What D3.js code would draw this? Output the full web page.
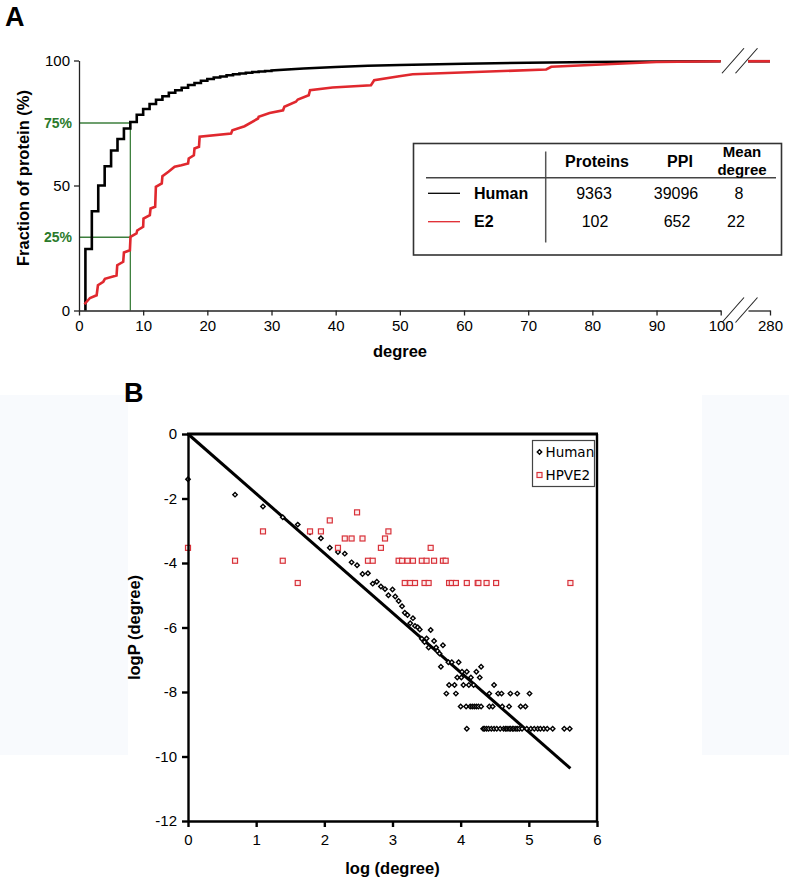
<!DOCTYPE html>
<html><head><meta charset="utf-8">
<script src="https://cdn.jsdelivr.net/npm/d3@7"></script>
<style>
body{margin:0;background:#fff}
svg{display:block}
text{font-family:"Liberation Sans",Arial,sans-serif;fill:#000}
</style>
</head><body>
<svg id="c" width="789" height="883"></svg>
<script>
// ---------- Panel A data ----------
const xTicksA = [0,10,20,30,40,50,60,70,80,90,100];
const yTicksA = [0,50,100];
const breakTick = [280];
// Human cumulative distribution (step part, then smooth part)
const humanStepDeg = [1,2,3,4,5,6,7,8,9,10,11,12,13,14,15,16,17,18,19,20,21,22,23,24,25,26,27,28,29,30];
const humanStepPct = [24.6,39.7,50.0,57.7,64.0,68.6,72.8,75.4,78.3,80.6,82.6,84.3,85.7,87.1,88.1,89.1,90.2,91.0,91.9,92.6,93.2,93.6,94.1,94.5,94.8,95.1,95.4,95.6,95.8,96.0];
const humanSmoothDeg = [35,40,45,50,60,70,80,90,100];
const humanSmoothPct = [96.8,97.4,97.9,98.2,98.7,99.1,99.4,99.6,99.7];
// E2 cumulative distribution (vertices of the red trace)
const e2Deg = [0.85,1.71,2.75,2.95,3.78,4.04,5.85,5.96,6.89,7.0,7.93,8.03,8.96,9.07,10.0,10.05,11.04,11.15,11.87,11.98,12.9,13.0,13.94,14.9,15.96,17.0,17.1,17.9,18.0,18.7,18.8,23.7,23.9,25.8,27.9,28.0,29.7,31.8,32.0,33.8,34.1,35.8,36.0,39.5,45.5,46.0,49.9,52,72.8,73.6,90,100];
const e2Pct = [2.5,5,6.1,10.1,11.5,12.7,14,18.1,19.5,23.2,24.1,29.5,30.8,32,33.5,36.8,38.1,40.8,41.5,49.5,50.8,53.7,55.5,57.5,58.1,58.8,60.8,62.1,64.8,65.5,69.5,70.8,72.1,73.7,76.8,77.5,79,80.1,81.5,83.5,84.4,86.1,88.1,89.2,90.1,92.1,93.7,94.5,96.4,97.5,99.4,99.7];
// after the axis break
const tailDeg = [250,280];
const tailPct = [99.7,99.7];
// quartile guides
const guideDeg = 8;
const guidePct = [75, 29.3];
const guideLabels = ["75%","25%"];
// table
const tableHeaders = ["Proteins","PPI"];
const tableHeader3 = ["Mean","degree"];
const tableNames = ["Human","E2"];
const tableProteins = ["9363","102"];
const tablePPI = ["39096","652"];
const tableMean = ["8","22"];

// ---------- Panel B data ----------
const xTicksB = [0,1,2,3,4,5,6];
const yTicksB = [0,-2,-4,-6,-8,-10,-12];
const humanLogK = [0,0.69,1.10,1.39,1.61,1.79,1.95,2.08,2.20,2.30,2.40,2.48,2.56,2.64,2.71,2.77,2.83,2.89,2.94,3.00,3.04,3.09,3.14,3.18,3.22,3.26,3.30,3.33,3.37,3.40,3.43,3.47,3.50,3.53,3.56,3.61,3.64,3.66,3.69,3.71,3.74,
  3.82,3.87,3.97,
  4.30,
  4.02,4.09,4.23,
  3.95,4.01,4.15,4.28,
  3.83,3.91,4.04,4.12,4.19,4.49,
  3.79,3.93,4.42,4.55,4.60,4.73,4.83,5.01,
  4.00,4.08,4.14,4.17,4.20,4.23,4.26,4.30,4.42,4.47,4.61,4.71,4.88,4.95,
  4.09,4.33,4.35,4.38,4.41,4.45,4.49,4.53,4.58,4.63,4.66,4.68,4.71,4.73,4.76,4.78,4.81,4.83,4.86,4.90,4.97,5.03,5.08,5.13,5.17,5.22,5.27,5.35,5.52,5.60];
const humanLogP = [-1.40,-1.88,-2.25,-2.58,-2.81,-3.05,-3.23,-3.53,-3.66,-3.71,-3.98,-4.07,-4.34,-4.32,-4.64,-4.58,-4.73,-4.81,-5.00,-4.82,-5.04,-5.18,-5.34,-5.54,-5.61,-5.87,-5.71,-5.95,-5.99,-6.06,-6.35,-6.45,-6.34,-6.62,-6.08,-6.42,-6.62,-6.73,-6.81,-7.22,-6.55,
  -7.08,-7.08,-7.08,
  -7.22,
  -7.37,-7.37,-7.37,
  -7.55,-7.55,-7.55,-7.55,
  -7.78,-7.78,-7.78,-7.78,-7.78,-7.78,
  -8.05,-8.05,-8.05,-8.05,-8.05,-8.05,-8.05,-8.05,
  -8.45,-8.45,-8.45,-8.45,-8.45,-8.45,-8.45,-8.45,-8.45,-8.45,-8.45,-8.45,-8.45,-8.45,
  -9.14,-9.14,-9.14,-9.14,-9.14,-9.14,-9.14,-9.14,-9.14,-9.14,-9.14,-9.14,-9.14,-9.14,-9.14,-9.14,-9.14,-9.14,-9.14,-9.14,-9.14,-9.14,-9.14,-9.14,-9.14,-9.14,-9.14,-9.14,-9.14,-9.14];
const e2LogK = [0,0.69,1.10,1.39,1.61,1.79,1.95,2.08,2.20,2.30,2.40,2.48,2.56,2.64,2.71,2.83,2.89,2.94,3.09,3.14,3.18,3.22,3.26,3.30,3.33,3.43,3.47,3.50,3.53,3.56,3.61,3.74,3.78,3.83,3.87,3.93,4.09,4.25,4.26,4.38,4.52,5.61];
const e2LogP = [-3.53,-3.93,-3.02,-3.93,-4.62,-3.02,-3.02,-2.68,-3.53,-3.24,-3.24,-2.43,-3.24,-3.93,-3.93,-3.53,-3.24,-3.02,-3.93,-3.93,-4.62,-3.93,-4.62,-3.93,-4.62,-3.93,-4.62,-3.93,-4.62,-3.53,-3.93,-3.93,-3.93,-4.62,-4.62,-4.62,-4.62,-4.62,-4.62,-4.62,-4.62,-4.62];
const fitLogK = [0,5.61];
const fitLogP = [0,-10.37];
const legendLabels = ["Human","HPVE2"];

// ---------- drawing ----------
const svg = d3.select("#c");
const RED = "#e0282e", GREEN = "#3d7f3d", GTEXT = "#2b7a2b";

// faint background tint of panel B margins
svg.append("rect").attr("x",0).attr("y",395).attr("width",128).attr("height",360).attr("fill","#f8fafd");
svg.append("rect").attr("x",702).attr("y",395).attr("width",87).attr("height",360).attr("fill","#f8fafd");

// ===== Panel A =====
const gA = svg.append("g");
const xA = d3.scaleLinear().domain([0,100]).range([79,720.7]);
const xA2 = d3.scaleLinear().domain([250,280]).range([748,770]);
const yA = d3.scaleLinear().domain([0,100]).range([310.5,60.5]);

gA.append("text").text("A").attr("x",5).attr("y",26).style("font-size","27px").style("font-weight","bold");

// guides
guidePct.forEach(p=>{
  gA.append("line").attr("x1",xA(0)).attr("x2",xA(guideDeg)).attr("y1",yA(p)).attr("y2",yA(p))
    .attr("stroke",GREEN).attr("stroke-width",1.3);
});
gA.append("line").attr("x1",xA(guideDeg)).attr("x2",xA(guideDeg)).attr("y1",yA(0)).attr("y2",yA(guidePct[0]))
  .attr("stroke",GREEN).attr("stroke-width",1.3);
guidePct.forEach((p,i)=>{
  gA.append("text").text(guideLabels[i]).attr("x",72).attr("y",yA(p)).attr("dy","0.35em")
    .attr("text-anchor","end").style("font-size","14px").style("font-weight","bold").style("fill",GTEXT);
});

// axes
const axA = gA.append("g").attr("transform",`translate(0,${yA(0)})`)
  .call(d3.axisBottom(xA).tickValues(xTicksA).tickSize(5).tickSizeOuter(0).tickPadding(5));
const axA2 = gA.append("g").attr("transform",`translate(0,${yA(0)})`)
  .call(d3.axisBottom(xA2).tickValues(breakTick).tickSize(5).tickSizeOuter(0).tickPadding(5));
const ayA = gA.append("g").attr("transform",`translate(${xA(0)},0)`)
  .call(d3.axisLeft(yA).tickValues(yTicksA).tickSize(5).tickSizeOuter(0).tickPadding(4));
[axA,axA2,ayA].forEach(a=>{
  a.selectAll("path,line").attr("stroke","#222").attr("stroke-width",1.3);
  a.selectAll("text").style("font-size","15px").style("font-family","'Liberation Sans',Arial,sans-serif");
});

// curves
const lineA = d3.line().x(d=>xA(d[0])).y(d=>yA(d[1]));
const humanPts = [[humanStepDeg[0],0]];
humanStepDeg.forEach((d,i)=>{
  if(i>0) humanPts.push([d,humanStepPct[i-1]]);
  humanPts.push([d,humanStepPct[i]]);
});
humanSmoothDeg.forEach((d,i)=>humanPts.push([d,humanSmoothPct[i]]));
gA.append("path").attr("d",lineA(humanPts)).attr("fill","none").attr("stroke","#000").attr("stroke-width",2.6);
gA.append("path").attr("d",lineA(e2Deg.map((d,i)=>[d,e2Pct[i]]))).attr("fill","none").attr("stroke",RED).attr("stroke-width",2.6);
const lineA2 = d3.line().x(d=>xA2(d[0])).y(d=>yA(d[1]));
gA.append("path").attr("d",lineA2(tailDeg.map((d,i)=>[d,tailPct[i]]))).attr("fill","none").attr("stroke","#000").attr("stroke-width",2.6);
gA.append("path").attr("d",lineA2(tailDeg.map((d,i)=>[d,tailPct[i]]))).attr("fill","none").attr("stroke",RED).attr("stroke-width",2.6);

// break marks
[[yA(0)],[yA(99.7)]].forEach(([yy])=>{
  [0,13.5].forEach(off=>{
    gA.append("line").attr("x1",722+off).attr("y1",yy+12).attr("x2",744+off).attr("y2",yy-13)
      .attr("stroke","#222").attr("stroke-width",1.1);
  });
});

// axis titles
gA.append("text").text("degree").attr("x",400).attr("y",357).attr("text-anchor","middle")
  .style("font-size","16.5px").style("font-weight","bold");
gA.append("text").text("Fraction of protein (%)").attr("transform","translate(29,178) rotate(-90)")
  .attr("text-anchor","middle").style("font-size","16.5px").style("font-weight","bold");

// table
const tb = gA.append("g");
tb.append("rect").attr("x",413.5).attr("y",143.5).attr("width",368).attr("height",111.5)
  .attr("fill","#fff").attr("stroke","#333").attr("stroke-width",1.6);
tb.append("line").attr("x1",545.7).attr("x2",545.7).attr("y1",151.5).attr("y2",242.5).attr("stroke","#555").attr("stroke-width",1.5);
tb.append("line").attr("x1",426).attr("x2",776).attr("y1",177.7).attr("y2",177.7).attr("stroke","#444").attr("stroke-width",1.5);
const colX = [597,680,742];
tableHeaders.forEach((h,i)=>tb.append("text").text(h).attr("x",colX[i]).attr("y",167).attr("text-anchor","middle")
  .style("font-size","16px").style("font-weight","bold"));
tableHeader3.forEach((h,i)=>tb.append("text").text(h).attr("x",colX[2]).attr("y",157+i*18).attr("text-anchor","middle")
  .style("font-size","15px").style("font-weight","bold"));
const rowY = [193.3,221.7];
const rowColor = ["#000",RED];
const valX = [[594,676,739],[595,677,736]];
tableNames.forEach((n,i)=>{
  tb.append("line").attr("x1",428).attr("x2",460).attr("y1",rowY[i]).attr("y2",rowY[i]).attr("stroke",rowColor[i]).attr("stroke-width",1.3);
  tb.append("text").text(n).attr("x",474).attr("y",rowY[i]).attr("dy","0.35em").style("font-size","16px").style("font-weight","bold");
  [tableProteins[i],tablePPI[i],tableMean[i]].forEach((v,j)=>{
    tb.append("text").text(v).attr("x",valX[i][j]).attr("y",rowY[i]).attr("dy","0.35em").attr("text-anchor","middle").style("font-size","16px");
  });
});

// ===== Panel B =====
const gB = svg.append("g");
const xB = d3.scaleLinear().domain([0,6]).range([188,597]);
const yB = d3.scaleLinear().domain([-12,0]).range([821,434]);

gB.append("text").text("B").attr("x",124).attr("y",402).style("font-size","27px").style("font-weight","bold");

// fit line
gB.append("line").attr("x1",xB(fitLogK[0])).attr("y1",yB(fitLogP[0])).attr("x2",xB(fitLogK[1])).attr("y2",yB(fitLogP[1]))
  .attr("stroke","#000").attr("stroke-width",3);

// human points (small diamonds)
const diamond = d3.symbol().type(d3.symbolSquare).size(10);
gB.append("g").selectAll("path").data(humanLogK.map((k,i)=>[k,humanLogP[i]])).join("path")
  .attr("d",diamond).attr("transform",d=>`translate(${xB(d[0])},${yB(d[1])}) rotate(45)`)
  .attr("fill","#fff").attr("stroke","#000").attr("stroke-width",1.4);
// E2 points (small squares)
gB.append("g").selectAll("rect").data(e2LogK.map((k,i)=>[k,e2LogP[i]])).join("rect")
  .attr("x",d=>xB(d[0])-2.5).attr("y",d=>yB(d[1])-2.5).attr("width",5).attr("height",5)
  .attr("fill","#fdeeee").attr("stroke","#d8323a").attr("stroke-width",1.2);

// frame & axes
const fmt = d => String(d);
const axB = gB.append("g").attr("transform",`translate(0,${yB(-12)})`)
  .call(d3.axisBottom(xB).tickValues(xTicksB).tickFormat(fmt).tickSize(6).tickSizeOuter(0).tickPadding(7));
const ayB = gB.append("g").attr("transform",`translate(${xB(0)},0)`)
  .call(d3.axisLeft(yB).tickValues(yTicksB).tickFormat(fmt).tickSize(6).tickSizeOuter(0).tickPadding(5));
[axB,ayB].forEach(a=>{
  a.selectAll("path,line").attr("stroke","#000").attr("stroke-width",2.4);
  a.selectAll("text").style("font-size","15px").style("font-family","'Liberation Sans',Arial,sans-serif");
});
gB.append("line").attr("x1",xB(0)-1).attr("x2",xB(6)+1).attr("y1",yB(0)).attr("y2",yB(0)).attr("stroke","#000").attr("stroke-width",3);
gB.append("line").attr("x1",xB(6)).attr("x2",xB(6)).attr("y1",yB(0)).attr("y2",yB(-12)).attr("stroke","#000").attr("stroke-width",2.4);

// titles
gB.append("text").text("log (degree)").attr("x",(xB(0)+xB(6))/2).attr("y",874).attr("text-anchor","middle")
  .style("font-size","16.5px").style("font-weight","bold");
gB.append("text").text("logP (degree)").attr("transform",`translate(140,${(yB(0)+yB(-12))/2}) rotate(-90)`)
  .attr("text-anchor","middle").style("font-size","16.5px").style("font-weight","bold");

// legend
const lg = gB.append("g");
lg.append("rect").attr("x",532.5).attr("y",440.5).attr("width",62).attr("height",46).attr("fill","#fff").attr("stroke","#444").attr("stroke-width",1.2);
lg.append("path").attr("d",diamond).attr("transform","translate(539.5,452) rotate(45)").attr("fill","#fff").attr("stroke","#000").attr("stroke-width",1.4);
lg.append("rect").attr("x",537).attr("y",472.5).attr("width",5).attr("height",5).attr("fill","#fdeeee").attr("stroke","#d8323a").attr("stroke-width",1.2);
legendLabels.forEach((t,i)=>lg.append("text").text(t).attr("x",545.5).attr("y",452+i*23).attr("dy","0.36em")
  .style("font-size","13.5px").style("font-family","'DejaVu Sans',sans-serif"));
</script>
</body></html>
